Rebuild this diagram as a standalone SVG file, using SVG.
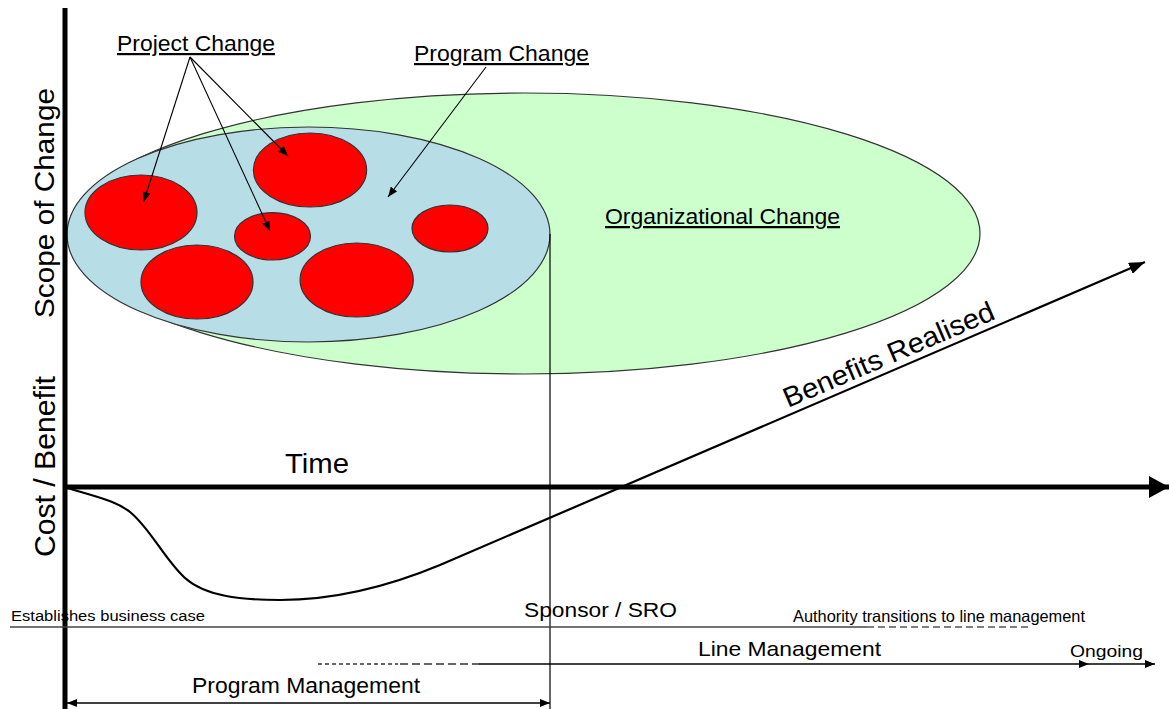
<svg xmlns="http://www.w3.org/2000/svg" width="1169" height="709" viewBox="0 0 1169 709">
<style>
.t{font-family:"Liberation Sans",Arial,sans-serif;fill:#000}
.u{text-decoration:underline}
.ell{stroke:#333;stroke-width:1.2}
.red{fill:#ff0000;stroke:#333;stroke-width:1.2}
.thin{stroke:#000;stroke-width:1.1;fill:none}
</style>
<defs>
<marker id="ah" markerUnits="userSpaceOnUse" viewBox="0 0 10 8" refX="10" refY="4" markerWidth="10" markerHeight="8" orient="auto"><path d="M0,0 L10,4 L0,8 Z" fill="#000"/></marker>
<marker id="ahs" markerUnits="userSpaceOnUse" viewBox="0 0 10 8" refX="10" refY="4" markerWidth="10" markerHeight="8" orient="auto-start-reverse"><path d="M0,0 L10,4 L0,8 Z" fill="#000"/></marker>
<marker id="ahb" markerUnits="userSpaceOnUse" viewBox="0 0 16 12" refX="16" refY="6" markerWidth="16" markerHeight="12" orient="auto"><path d="M0,0 L16,6 L0,12 Z" fill="#000"/></marker>
<marker id="ahx" markerUnits="userSpaceOnUse" viewBox="0 0 20 22" refX="20" refY="11" markerWidth="20" markerHeight="22" orient="auto"><path d="M0,0 L20,11 L0,22 Z" fill="#000"/></marker>
</defs>
<rect width="1169" height="709" fill="#fff"/>

<g id="organizational-change">
<ellipse class="ell" cx="524" cy="233.5" rx="456" ry="140.5" fill="#ccffcc"/>
<text class="t u" x="605" y="224" font-size="22.5" textLength="235" lengthAdjust="spacingAndGlyphs">Organizational Change</text>
</g>

<g id="program-change">
<ellipse class="ell" cx="308.5" cy="234.5" rx="241.5" ry="107.5" fill="#b7dde6"/>
<text class="t u" x="414" y="61" font-size="22" textLength="175" lengthAdjust="spacingAndGlyphs">Program Change</text>
</g>

<g id="projects">
<ellipse class="red" cx="141" cy="212.5" rx="56" ry="37.5"/>
<ellipse class="red" cx="310" cy="170" rx="56.6" ry="37"/>
<ellipse class="red" cx="272.5" cy="236.3" rx="38" ry="23.7"/>
<ellipse class="red" cx="197" cy="282" rx="56" ry="37"/>
<ellipse class="red" cx="356.7" cy="280" rx="56.6" ry="37"/>
<ellipse class="red" cx="450" cy="228.5" rx="38" ry="23.5"/>
<text class="t u" x="117" y="51" font-size="22" textLength="158" lengthAdjust="spacingAndGlyphs">Project Change</text>
</g>

<g id="axes">
<line x1="65" y1="8" x2="65" y2="709" stroke="#000" stroke-width="5"/>
<line x1="63" y1="487" x2="1169" y2="487" stroke="#000" stroke-width="5" marker-end="url(#ahx)"/>
<text class="t" transform="translate(54,203) rotate(-90)" text-anchor="middle" font-size="28.5" textLength="230" lengthAdjust="spacingAndGlyphs">Scope of Change</text>
<text class="t" transform="translate(55,466.5) rotate(-90)" text-anchor="middle" font-size="29" textLength="181" lengthAdjust="spacingAndGlyphs">Cost / Benefit</text>
<text class="t" x="285" y="473" font-size="27" textLength="64" lengthAdjust="spacingAndGlyphs">Time</text>
</g>

<g id="connectors">
<line class="thin" x1="190" y1="57" x2="143.6" y2="202" marker-end="url(#ah)"/>
<line class="thin" x1="190" y1="57" x2="270" y2="231" marker-end="url(#ah)"/>
<line class="thin" x1="190" y1="57" x2="288" y2="156" marker-end="url(#ah)"/>
<line class="thin" x1="486" y1="67" x2="388" y2="197" marker-end="url(#ah)"/>
<path d="M65,487 C95,497 115,500 130,512 C150,528 165,560 185,578 C205,596 240,600 280,600 C330,600 380,590 440,565 L1145,262" fill="none" stroke="#000" stroke-width="2.2" marker-end="url(#ahb)"/>
<line x1="550" y1="234" x2="550" y2="709" stroke="#000" stroke-width="1.2"/>
<line x1="10" y1="627" x2="867" y2="627" stroke="#444" stroke-width="1.5"/>
<line x1="867" y1="627" x2="1031" y2="627" stroke="#555" stroke-width="1.5" stroke-dasharray="7,4"/>
<line x1="318" y1="664" x2="398" y2="664" stroke="#333" stroke-width="1.5" stroke-dasharray="4,3"/>
<line x1="400" y1="664" x2="479" y2="664" stroke="#333" stroke-width="1.5" stroke-dasharray="8,4"/>
<line x1="479" y1="664" x2="1089" y2="664" stroke="#000" stroke-width="1.5" marker-end="url(#ah)"/>
<line x1="1089" y1="664" x2="1155" y2="664" stroke="#000" stroke-width="1.5" marker-end="url(#ah)"/>
<line x1="67" y1="703" x2="550" y2="703" stroke="#000" stroke-width="1.5" marker-start="url(#ahs)" marker-end="url(#ah)"/>
</g>

<g id="labels">
<text class="t" transform="translate(788,408) rotate(-23.2)" font-size="28" textLength="227" lengthAdjust="spacingAndGlyphs">Benefits Realised</text>
<text class="t" x="11" y="621" font-size="15.5" textLength="194" lengthAdjust="spacingAndGlyphs">Establishes business case</text>
<text class="t" x="524" y="617" font-size="21" textLength="153" lengthAdjust="spacingAndGlyphs">Sponsor / SRO</text>
<text class="t" x="793" y="622" font-size="16.5" textLength="292" lengthAdjust="spacingAndGlyphs">Authority transitions to line management</text>
<text class="t" x="698" y="656" font-size="21" textLength="183" lengthAdjust="spacingAndGlyphs">Line Management</text>
<text class="t" x="1070" y="657" font-size="17" textLength="73" lengthAdjust="spacingAndGlyphs">Ongoing</text>
<text class="t" x="192" y="693" font-size="22" textLength="228" lengthAdjust="spacingAndGlyphs">Program Management</text>
</g>
</svg>
